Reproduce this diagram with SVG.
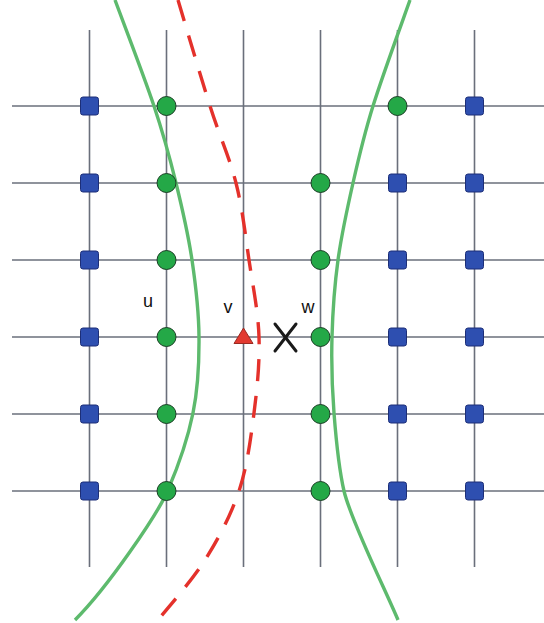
<svg xmlns="http://www.w3.org/2000/svg" width="544" height="623" viewBox="0 0 544 623">
<defs>
<style>
.grid line{stroke:#6a6f7b;stroke-width:1.6}
.hyp{fill:none;stroke:#5dba6d;stroke-width:3.4}
.red{fill:none;stroke:#e4312b;stroke-width:3.4;stroke-dasharray:22 15}
.sq{fill:#2e4fb0;stroke:#1d2f78;stroke-width:1}
.ci{fill:#24a847;stroke:#1c3f26;stroke-width:1}
.lbl{font-family:"Liberation Sans",Arial,sans-serif;font-size:18px;fill:#111}
</style>
<rect id="s" class="sq" x="-9" y="-9" width="18" height="18" rx="2.5"/>
<circle id="c" class="ci" r="9.5"/>
</defs>
<rect width="544" height="623" fill="#fff"/>
<g id="grid" class="grid">
<line x1="89.5" y1="30" x2="89.5" y2="567"/>
<line x1="166.5" y1="30" x2="166.5" y2="567"/>
<line x1="243.5" y1="30" x2="243.5" y2="567"/>
<line x1="320.5" y1="30" x2="320.5" y2="567"/>
<line x1="397.5" y1="30" x2="397.5" y2="567"/>
<line x1="474.5" y1="30" x2="474.5" y2="567"/>
<line x1="12" y1="106" x2="544" y2="106"/>
<line x1="12" y1="183" x2="544" y2="183"/>
<line x1="12" y1="260" x2="544" y2="260"/>
<line x1="12" y1="337" x2="544" y2="337"/>
<line x1="12" y1="414" x2="544" y2="414"/>
<line x1="12" y1="491" x2="544" y2="491"/>
</g>
<g id="connectors">
<path class="hyp" d="M115,0 C121.5,17.7 143.8,75.5 154,106 C164.2,136.5 169.7,157.3 176,183 C182.3,208.7 188.2,234.3 192,260 C195.8,285.7 198.8,311.5 199,337 C199.2,362.5 198.2,387.5 193,413 C187.8,438.5 178.5,465.5 168,490 C157.5,514.5 108,587 75,620"/>
<path class="hyp" d="M410,0 C403.8,17.7 382.5,75.5 373,106 C363.5,136.5 358.8,157.3 353,183 C347.2,208.7 341.5,234.3 338,260 C334.5,285.7 332.7,311.5 332,337 C331.3,362.5 332,387.3 334,413 C336,438.7 338,465 344,491 C351,521 385,589 398,620"/>
<path class="red" d="M178,0 C183.3,17.7 200.3,75.5 210,106 C219.7,136.5 229.5,157.3 236,183 C242.5,208.7 245.2,234.3 249,260 C252.8,285.7 258.2,311.5 259,337 C259.8,362.5 257.3,387.3 254,413 C250.7,438.7 247.2,466.5 239,491 C230.8,515.5 218.5,538.5 205,560 C191.5,581.5 165.8,610 158,620"/>
</g>
<g id="r1">
<use href="#s" x="89.5" y="106"/><use href="#c" x="166.5" y="106"/><use href="#c" x="397.5" y="106"/><use href="#s" x="474.5" y="106"/>
</g>
<g id="r2">
<use href="#s" x="89.5" y="183"/><use href="#c" x="166.5" y="183"/><use href="#c" x="320.5" y="183"/><use href="#s" x="397.5" y="183"/><use href="#s" x="474.5" y="183"/>
</g>
<g id="r3">
<use href="#s" x="89.5" y="260"/><use href="#c" x="166.5" y="260"/><use href="#c" x="320.5" y="260"/><use href="#s" x="397.5" y="260"/><use href="#s" x="474.5" y="260"/>
</g>
<g id="r4">
<use href="#s" x="89.5" y="337"/><use href="#c" x="166.5" y="337"/><use href="#c" x="320.5" y="337"/><use href="#s" x="397.5" y="337"/><use href="#s" x="474.5" y="337"/>
</g>
<g id="r5">
<use href="#s" x="89.5" y="414"/><use href="#c" x="166.5" y="414"/><use href="#c" x="320.5" y="414"/><use href="#s" x="397.5" y="414"/><use href="#s" x="474.5" y="414"/>
</g>
<g id="r6">
<use href="#s" x="89.5" y="491"/><use href="#c" x="166.5" y="491"/><use href="#c" x="320.5" y="491"/><use href="#s" x="397.5" y="491"/><use href="#s" x="474.5" y="491"/>
</g>
<g id="v-node">
<polygon points="243.5,328 234,343.5 253,343.5" fill="#e23a30" stroke="#9a2a22" stroke-width="1"/>
</g>
<g id="x-mark" stroke="#1a1a1a" stroke-width="3" stroke-linecap="round">
<line x1="275" y1="324" x2="296" y2="351"/>
<line x1="296" y1="324" x2="275" y2="351"/>
</g>
<g id="labels">
<text class="lbl" x="148" y="307" text-anchor="middle">u</text>
<text class="lbl" x="228" y="313" text-anchor="middle">v</text>
<text class="lbl" x="308" y="313" text-anchor="middle">w</text>
</g>
</svg>
